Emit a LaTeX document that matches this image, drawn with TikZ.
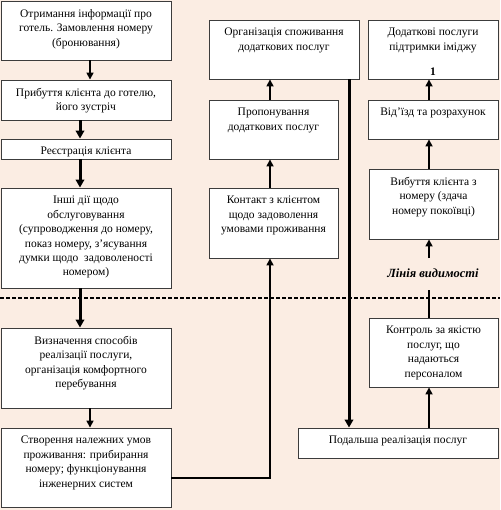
\documentclass[tikz,border=0pt]{standalone}
\usepackage{fontspec}
\setmainfont{Liberation Serif}
\usetikzlibrary{arrows.meta,calc}
\definecolor{bgpeach}{RGB}{251,237,227}
\definecolor{edgegray}{RGB}{60,60,60}
\newcommand{\mkbox}[6]{%
  \node[bx, minimum width={(#4-#2)*1pt}, minimum height={(#5-#3)*1pt}] (#1) at ({(#2+#4)/2},{(#3+#5)/2}) {};
  \node[tx] (#1t) at ([yshift=-8.5pt]#1.north) {#6};
}
\begin{document}
\begin{tikzpicture}[x=1pt,y=-1pt,
  bx/.style={draw=edgegray, fill=white, line width=0.9pt, inner sep=0pt},
  tx/.style={anchor=north, align=center, inner sep=0pt, font=\fontsize{11.5}{14.4}\selectfont},
  thin/.style={line width=1.6pt, -{Triangle[length=7pt,width=7pt]}},
  thick/.style={line width=3pt, -{Triangle[length=8pt,width=8.5pt]}},
  plain/.style={line width=1.6pt},
  vis/.style={dashed, dash pattern=on 4pt off 2pt, line width=1.1pt}
]
\fill[bgpeach] (0,0) rectangle (500,510);
\useasboundingbox (0,0) rectangle (500,510);

% left column
\mkbox{b1}{1}{1}{171}{60}{Отримання інформації про\\готель. Замовлення номеру\\(бронювання)}
\mkbox{b2}{1}{80}{171}{120}{Прибуття клієнта до готелю,\\його зустріч}
\mkbox{b3}{1}{139}{171}{159}{Реєстрація клієнта}
\mkbox{b4}{1}{188}{171}{288}{Інші дії щодо\\обслуговування\\(супроводження до номеру,\\показ номеру, з’ясування\\думки щодо~ задоволеності\\номером)}
\mkbox{b5}{1}{328}{171}{408}{Визначення способів\\реалізації послуги,\\організація комфортного\\перебування}
\mkbox{b6}{1}{428}{171}{507}{Створення належних умов\\проживання: прибирання\\номеру; функціонування\\інженерних систем}

% middle column
\mkbox{m1}{209}{20}{359}{79}{Організація споживання\\додаткових послуг}
\mkbox{m2}{209}{100}{338}{159}{Пропонування\\додаткових послуг}
\mkbox{m3}{209}{188}{338}{258}{Контакт з клієнтом\\щодо задоволення\\умовами проживання}
\mkbox{m4}{298}{428}{498}{458}{Подальша реалізація послуг}

% right column
\mkbox{r1}{368}{20}{498}{79}{Додаткові послуги\\підтримки іміджу\\[11pt]\textbf{1}}
\mkbox{r2}{368}{100}{498}{139}{Від’їзд та розрахунок}
\mkbox{r3}{369}{169}{498}{239}{Вибуття клієнта з\\номеру (здача\\номеру покоївці)}
\mkbox{r4}{369}{318}{498}{387}{Контроль за якістю\\послуг, що\\надаються\\персоналом}

% visibility line
\coordinate (vl) at (0,298);
\coordinate (vr) at (500,298);
\draw[vis] (vl) -- (vr);
\node[font=\fontsize{12.5}{14}\selectfont\bfseries\itshape, inner sep=1pt] (lbl) at (433,273) {Лінія видимості};

% guide coordinates
\coordinate (x80) at (80,0);
\coordinate (x90) at (90,0);
\coordinate (x270) at (270,0);
\coordinate (x349) at (349,0);
\coordinate (x429) at (429,0);
\coordinate (top290) at (429,290);
\coordinate (bot258) at (429,258);
\coordinate (h478) at (0,478);
\coordinate (corner) at (270,478);

% left arrows
\draw[thin] (b1.south -| x90) -- (b2.north -| x90);
\draw[thick] (b2.south -| x80) -- (b3.north -| x80);
\draw[thick] (b3.south -| x80) -- (b4.north -| x80);
\draw[thick] (b4.south -| x80) -- (b5.north -| x80);
\draw[thin] (b5.south -| x90) -- (b6.north -| x90);

% to middle
\draw[thin] (b6.east |- h478) -- (corner) -- (m3.south -| x270);
\draw[thin] (m3.north -| x270) -- (m2.south -| x270);
\draw[thin] (m2.north -| x270) -- (m1.south -| x270);
\draw[thick] (m1.south -| x349) -- (m4.north -| x349);

% right arrows
\draw[thin] (m4.north -| x429) -- (r4.south -| x429);
\draw[plain] (r4.north -| x429) -- (top290);
\draw[thin] (bot258) -- (r3.south -| x429);
\draw[thin] (r3.north -| x429) -- (r2.south -| x429);
\draw[thin] (r2.north -| x429) -- (r1.south -| x429);
\end{tikzpicture}
\end{document}
